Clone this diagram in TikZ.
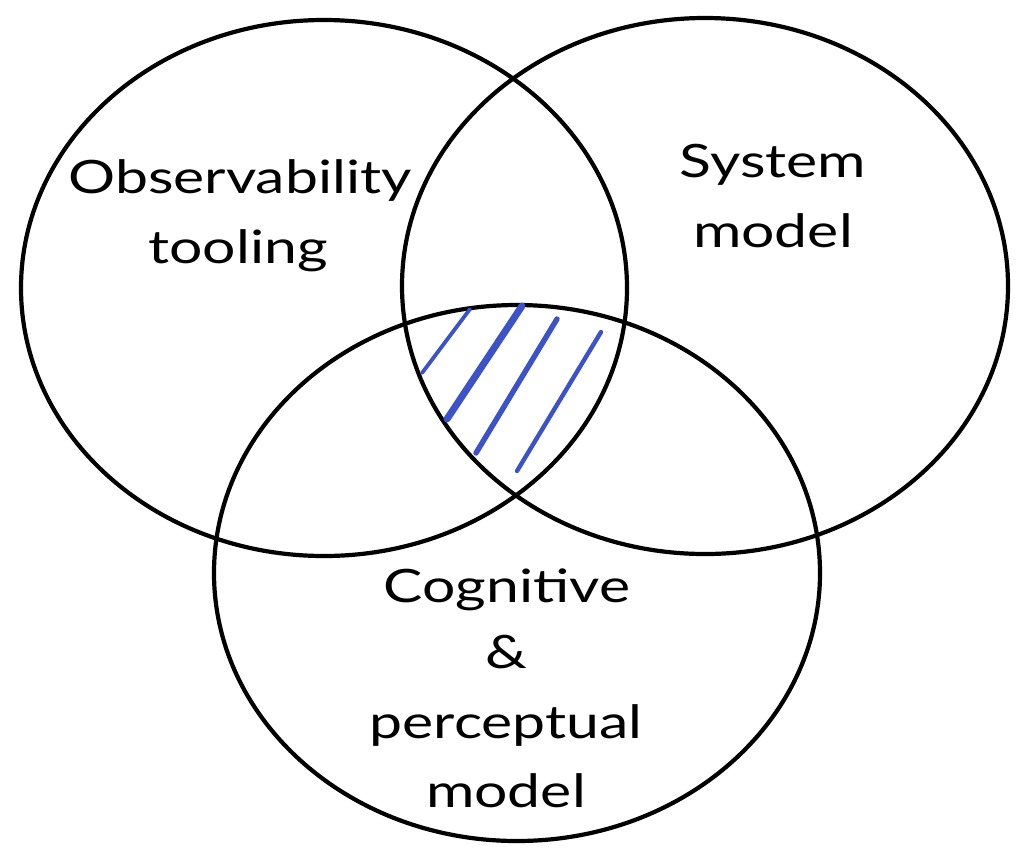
\documentclass[tikz,border=0pt]{standalone}
\usepackage{fontspec}
\setmainfont{Lato}[FakeStretch=1.28]
\usetikzlibrary{shapes.geometric}
\definecolor{hatchblue}{RGB}{59,82,201}
\tikzset{
  setcircle/.style={ellipse, draw=black, line width=4.2pt, minimum width=606pt, minimum height=536pt, inner sep=0pt},
  lbl/.style={anchor=base, font=\fontsize{46}{52}\selectfont, inner sep=0pt},
  hatch/.style={draw=hatchblue, line cap=round}
}
\begin{document}
\begin{tikzpicture}[x=1pt,y=-1pt]
\useasboundingbox (0,0) rectangle (1024,863);
\node[setcircle] (obs) at (324,288) {};
\node[setcircle] (sys) at (705,286) {};
\node[setcircle] (cog) at (517,573) {};
% hatching of the common region
\coordinate (h1a) at (470,309); \coordinate (h1b) at (422,373);
\coordinate (h2a) at (522,306); \coordinate (h2b) at (447,419);
\coordinate (h3a) at (557,319); \coordinate (h3b) at (476,453);
\coordinate (h4a) at (601,332); \coordinate (h4b) at (517,471);
\draw[hatch, line width=3.8pt] (h1a) -- (h1b);
\draw[hatch, line width=7pt] (h2a) -- (h2b);
\draw[hatch, line width=5.4pt] (h3a) -- (h3b);
\draw[hatch, line width=4.4pt] (h4a) -- (h4b);
% labels
\node[lbl] (t1) at (240,193) {Observability};
\node[lbl] (t2) at (238,263) {tooling};
\node[lbl] (t3) at (773,177) {System};
\node[lbl] (t4) at (773,247) {model};
\node[lbl] (t5) at (507,602) {Cognitive};
\node[lbl] (t6) at (506,668) {\&};
\node[lbl] (t7) at (506,738) {perceptual};
\node[lbl] (t8) at (506,807) {model};
\end{tikzpicture}
\end{document}
